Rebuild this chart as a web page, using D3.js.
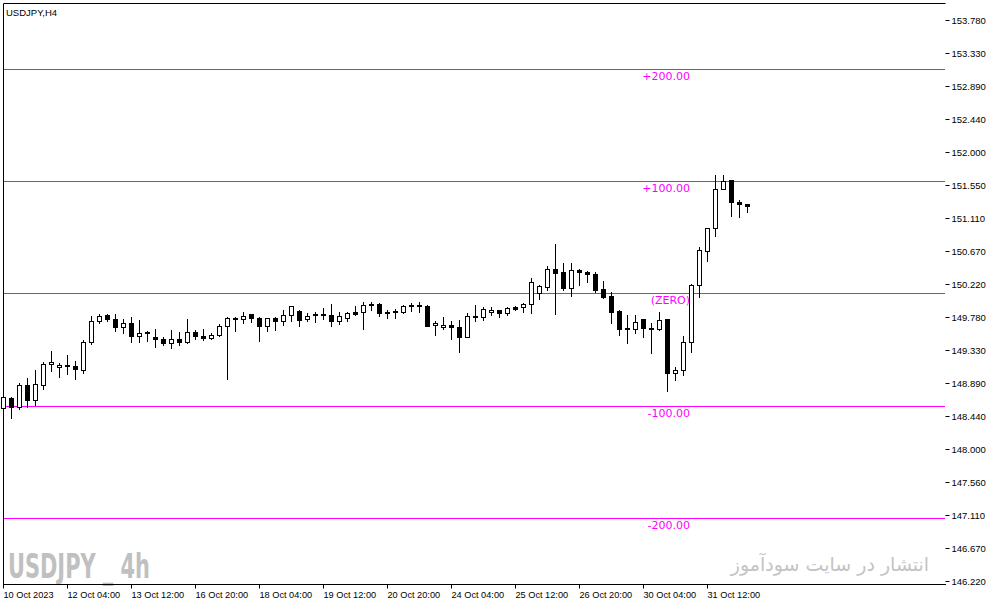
<!DOCTYPE html>
<html>
<head>
<meta charset="utf-8">
<script src="https://cdn.jsdelivr.net/npm/d3@7/dist/d3.min.js"></script>
<style>
  html, body { margin: 0; padding: 0; background: #fff; }
  svg { display: block; }
</style>
</head>
<body>
<svg id="chart" width="991" height="605"></svg>
<script>
// ---------------- DATA ----------------
const symbolTitle = "USDJPY,H4";
const open  = [148.548,148.682,148.561,148.858,148.655,148.858,149.141,149.100,149.127,149.114,
               149.060,149.437,149.720,149.801,149.747,149.639,149.693,149.518,149.572,149.504,
               149.477,149.424,149.477,149.437,149.572,149.518,149.491,149.531,149.653,149.760,
               149.747,149.814,149.760,149.653,149.760,149.720,149.801,149.855,149.747,149.814,
               149.814,149.801,149.720,149.760,149.841,149.841,149.949,149.949,149.841,149.855,
               149.841,149.930,149.936,149.922,149.666,149.639,149.666,149.639,149.504,149.787,
               149.774,149.839,149.870,149.828,149.909,149.909,149.953,150.105,150.186,150.421,
               150.380,150.173,150.407,150.380,150.353,150.151,150.061,149.859,149.625,149.620,
               149.747,149.627,149.612,149.747,149.017,149.060,149.437,150.205,150.663,150.973,
               151.499,151.620,151.324,151.297];
const high  = [148.767,148.696,148.884,148.952,149.060,149.172,149.316,149.154,149.262,149.181,
               149.464,149.787,149.814,149.814,149.814,149.747,149.774,149.733,149.585,149.612,
               149.504,149.599,149.572,149.747,149.599,149.612,149.558,149.680,149.774,149.774,
               149.841,149.814,149.774,149.760,149.774,149.868,149.922,149.868,149.828,149.841,
               149.895,149.949,149.841,149.841,149.922,149.976,149.976,149.963,149.868,149.882,
               149.936,149.963,149.976,149.936,149.720,149.774,149.720,149.733,149.828,149.936,
               149.909,149.906,149.872,149.917,149.926,149.971,150.299,150.209,150.465,150.762,
               150.502,150.502,150.421,150.394,150.380,150.263,150.119,149.872,149.805,149.805,
               149.747,149.700,149.841,149.747,149.104,149.519,150.219,150.717,150.973,151.688,
               151.688,151.620,151.351,151.297];
const low   = [148.548,148.413,148.534,148.561,148.588,148.804,149.046,148.965,149.006,148.938,
               149.019,149.410,149.693,149.720,149.585,149.558,149.437,149.437,149.450,149.370,
               149.397,149.356,149.397,149.424,149.477,149.464,149.477,149.518,148.938,149.585,
               149.693,149.707,149.459,149.585,149.599,149.666,149.720,149.653,149.720,149.707,
               149.747,149.653,149.680,149.720,149.801,149.612,149.868,149.787,149.760,149.760,
               149.828,149.855,149.841,149.653,149.531,149.612,149.477,149.302,149.504,149.720,
               149.733,149.805,149.774,149.801,149.872,149.849,149.836,150.025,150.142,149.822,
               150.142,150.065,150.213,150.254,150.119,150.038,149.701,149.531,149.432,149.566,
               149.512,149.299,149.599,148.785,148.929,148.990,149.310,150.043,150.537,150.865,
               151.499,151.135,151.121,151.189];
const close = [148.696,148.561,148.858,148.655,148.871,149.141,149.167,149.127,149.114,149.073,
               149.437,149.720,149.787,149.747,149.639,149.693,149.518,149.558,149.558,149.477,
               149.424,149.477,149.437,149.572,149.518,149.491,149.531,149.653,149.760,149.747,
               149.787,149.760,149.653,149.760,149.720,149.801,149.922,149.733,149.787,149.801,
               149.801,149.720,149.787,149.828,149.814,149.936,149.936,149.828,149.828,149.841,
               149.922,149.936,149.922,149.653,149.693,149.666,149.639,149.504,149.787,149.774,
               149.882,149.870,149.828,149.895,149.890,149.953,150.254,150.196,150.421,150.375,
               150.173,150.407,150.380,150.353,150.142,150.051,149.849,149.612,149.612,149.707,
               149.623,149.612,149.733,149.017,149.060,149.437,150.205,150.677,150.973,151.499,
               151.607,151.324,151.297,151.270];

const priceTicks      = [153.78,153.33,152.89,152.44,152.00,151.55,151.11,150.67,150.22,149.78,149.33,148.89,148.44,148.00,147.56,147.11,146.67,146.22];
const priceTickLabels = ["153.780","153.330","152.890","152.440","152.000","151.550","151.110","150.670","150.220","149.780","149.330","148.890","148.440","148.000","147.560","147.110","146.670","146.220"];

const timeTickIdx    = [0,8,16,24,32,40,48,56,64,72,80,88];
const timeTickLabels = ["10 Oct 2023","12 Oct 04:00","13 Oct 12:00","16 Oct 20:00","18 Oct 04:00","19 Oct 12:00","20 Oct 20:00","24 Oct 04:00","25 Oct 12:00","26 Oct 20:00","30 Oct 04:00","31 Oct 12:00"];

const levelValues = [153.120,151.610,150.101,148.579,147.069];
const levelLabels = ["+200.00","+100.00","(ZERO)","-100.00","-200.00"];

const watermarkLeft  = "USDJPY _ 4h";
const watermarkRight = "انتشار در سایت سودآموز";

// ---------------- LAYOUT ----------------
const svg = d3.select("#chart");
const L = 3, T = 3, R = 945, B = 584;
const magenta = "#ff00ff";
const uiFont = "'Liberation Sans', Arial, sans-serif";

const x = d3.scaleLinear().domain([0, 93]).range([3, 747]);
const y = d3.scaleLinear().domain([146.22, 153.78]).range([581, 20]);

// frame
svg.append("rect").attr("x", 0).attr("y", 0).attr("width", 991).attr("height", 605).attr("fill", "#fff");
svg.append("path")
  .attr("d", `M${L + 0.5},${B + 0.5}V${T + 0.5}H${R + 0.5}`)
  .attr("fill", "none").attr("stroke", "#000").attr("stroke-width", 1);

// watermarks
svg.append("text")
  .attr("x", 8).attr("y", 578)
  .attr("font-family", "'Liberation Sans Narrow', 'DejaVu Sans Condensed', 'Liberation Sans', sans-serif")
  .attr("font-weight", "bold").attr("font-size", 34)
  .attr("textLength", 142).attr("lengthAdjust", "spacingAndGlyphs")
  .attr("fill", "#c0c0c0")
  .text(watermarkLeft);
svg.append("text")
  .attr("x", 830).attr("y", 571)
  .attr("text-anchor", "middle")
  .attr("font-family", "'DejaVu Sans', sans-serif")
  .attr("font-size", 19)
  .attr("fill", "#c4c4c4")
  .text(watermarkRight);

// level lines
const lv = svg.append("g");
levelValues.forEach((v, i) => {
  const yy = Math.round(y(v)) + 0.5;
  lv.append("line").attr("x1", L + 1).attr("x2", R).attr("y1", yy).attr("y2", yy)
    .attr("stroke", magenta).attr("stroke-width", 1);
  lv.append("text").attr("x", 690).attr("y", yy + 10)
    .attr("text-anchor", "end")
    .attr("font-family", "'DejaVu Sans', sans-serif").attr("font-size", 11)
    .attr("fill", magenta)
    .text(levelLabels[i]);
});

// candles
const g = svg.append("g");
open.forEach((o, i) => {
  const c = close[i];
  const c0 = Math.round(x(i));
  const yH = Math.round(y(high[i]));
  const yL = Math.round(y(low[i]));
  const yO = Math.round(y(o));
  const yC = Math.round(y(c));
  const top = Math.min(yO, yC), bot = Math.max(yO, yC);
  g.append("line").attr("x1", c0 + 0.5).attr("x2", c0 + 0.5)
    .attr("y1", yH).attr("y2", yL + 1)
    .attr("stroke", "#000").attr("stroke-width", 1);
  if (bot - top < 1) {
    g.append("line").attr("x1", c0 - 2).attr("x2", c0 + 3)
      .attr("y1", top + 0.5).attr("y2", top + 0.5)
      .attr("stroke", "#000").attr("stroke-width", 1);
  } else {
    g.append("rect").attr("x", c0 - 1.5).attr("y", top + 0.5)
      .attr("width", 4).attr("height", bot - top)
      .attr("fill", c >= o ? "#fff" : "#000")
      .attr("stroke", "#000").attr("stroke-width", 1);
  }
});

// right price axis
const yAxis = d3.axisRight(y)
  .tickValues(priceTicks)
  .tickFormat((d, i) => priceTickLabels[i])
  .tickSize(4).tickSizeOuter(0).tickPadding(2);
const ya = svg.append("g").attr("transform", `translate(${R + 0.5},0)`).call(yAxis);
ya.select(".domain").remove();
ya.selectAll(".tick").attr("transform", d => `translate(0,${Math.round(y(d)) + 0.5})`);
ya.selectAll(".tick line").attr("stroke", "#000");
ya.selectAll(".tick text").attr("font-family", uiFont).attr("font-size", 9.5).attr("fill", "#000");

// bottom time axis
const xAxis = d3.axisBottom(x)
  .tickValues(timeTickIdx)
  .tickFormat((d, i) => timeTickLabels[i])
  .tickSize(4).tickSizeOuter(0).tickPadding(3);
const xa = svg.append("g").attr("transform", `translate(0,${B + 0.5})`).call(xAxis);
xa.select(".domain").attr("d", `M${L},0H${R + 1}`).attr("stroke", "#000");
xa.selectAll(".tick").attr("transform", d => `translate(${Math.round(x(d)) + 0.5},0)`);
xa.selectAll(".tick line").attr("stroke", "#000");
xa.selectAll(".tick text").attr("font-family", uiFont).attr("font-size", 9.2).attr("fill", "#000")
  .attr("text-anchor", "start").attr("dx", 0);

// title
svg.append("text").attr("x", 6).attr("y", 16)
  .attr("font-family", uiFont).attr("font-size", 9.5).attr("fill", "#000")
  .text(symbolTitle);
</script>
</body>
</html>
